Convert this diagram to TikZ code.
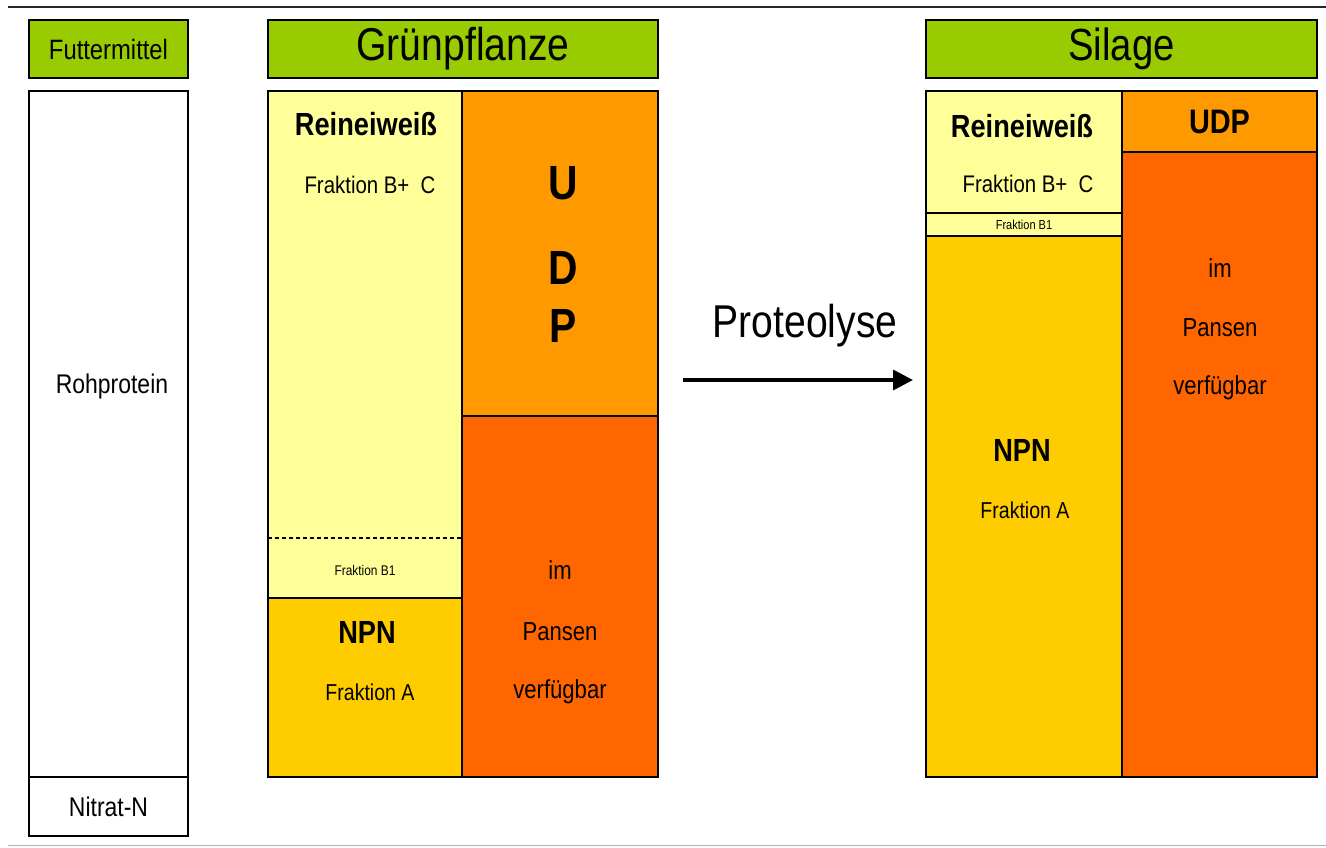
\documentclass[tikz,border=0pt]{standalone}
\usepackage{fontspec}
\setmainfont{Liberation Sans}[FakeStretch=0.85]
\usetikzlibrary{arrows.meta}
\definecolor{leafgreen}{HTML}{99CC00}
\definecolor{paleyellow}{HTML}{FFFF99}
\definecolor{npnyellow}{HTML}{FFCC00}
\definecolor{udporange}{HTML}{FF9900}
\definecolor{pansenred}{HTML}{FF6600}
\newcommand{\fsz}[1]{\fontsize{#1}{#1}\selectfont}
\tikzset{
  cell/.style={draw=black, line width=1.6pt, inner sep=0pt, outer sep=0pt, anchor=north west},
  lbl/.style={inner sep=0pt, anchor=center, text=black},
  flowarrow/.style={line width=3.5pt, -{Triangle[length=20pt,width=20pt]}}
}
\begin{document}
\begin{tikzpicture}[x=1pt,y=-1pt]
\useasboundingbox (0,0) rectangle (1326,847);
% frame rules
\draw[line width=2.5pt, black!85] (8,7) -- (1326,7);
\draw[line width=1pt, black!30] (8,845) -- (1326,845);

% left column: feed
\node[cell, fill=leafgreen, minimum width=159pt, minimum height=58pt] (fm) at (29,20) {};
\node[cell, fill=white, minimum width=159pt, minimum height=686pt] (roh) at (29,91) {};
\node[cell, fill=white, minimum width=159pt, minimum height=59pt] (nit) at (29,777) {};
\node[lbl] (fmT) at (fm.center) {\fsz{28}Futtermittel};
\node[lbl] (rohT) at (112,387) {\fsz{27}Rohprotein};
\node[lbl] (nitT) at (nit.center) {\fsz{27}Nitrat-N};

% green plant
\node[cell, fill=leafgreen, minimum width=390pt, minimum height=58pt] (gph) at (268,20) {};
\node[cell, fill=paleyellow, minimum width=194pt, minimum height=507pt] (gre) at (268,91) {};
\node[cell, fill=npnyellow, minimum width=194pt, minimum height=179pt] (gnpn) at (268,598) {};
\node[cell, fill=udporange, minimum width=196pt, minimum height=325pt] (gudp) at (462,91) {};
\node[cell, fill=pansenred, minimum width=196pt, minimum height=361pt] (gpan) at (462,416) {};
\draw[line width=1.2pt, dash pattern=on 4pt off 3pt] (gre.west |- 0,538) -- (gre.east |- 0,538);
\node[lbl] (gphT) at (gph.center) {\fsz{46}Grünpflanze};
\node[lbl] (greT) at (366,124) {\fsz{32}\bfseries Reineiweiß};
\node[lbl] (greF) at (370,185) {\fsz{24}Fraktion B+\ \ C};
\node[lbl] (gb1) at (365,570) {\fsz{14}Fraktion B1};
\node[lbl] (gnpnT) at (367,632) {\fsz{32}\bfseries NPN};
\node[lbl] (gnpnF) at (370,692) {\fsz{23}Fraktion A};
\node[lbl] (gU) at (563,183) {\fsz{48}\bfseries U};
\node[lbl] (gD) at (563,268) {\fsz{48}\bfseries D};
\node[lbl] (gP) at (563,326) {\fsz{48}\bfseries P};
\node[lbl] (gim) at (560,570) {\fsz{26}im};
\node[lbl] (gpa) at (560,632) {\fsz{26}Pansen};
\node[lbl] (gve) at (560,692) {\fsz{26}verfügbar};

% proteolysis arrow
\coordinate (arrS) at (683,380);
\coordinate (arrE) at (913,380);
\draw[flowarrow] (arrS) -- (arrE);
\node[lbl] (prot) at (805,326) {\fsz{46}Proteolyse};

% silage
\node[cell, fill=leafgreen, minimum width=391pt, minimum height=58pt] (sh) at (926,20) {};
\node[cell, fill=paleyellow, minimum width=196pt, minimum height=122pt] (sre) at (926,91) {};
\node[cell, fill=paleyellow, minimum width=196pt, minimum height=23pt] (sb1) at (926,213) {};
\node[cell, fill=npnyellow, minimum width=196pt, minimum height=541pt] (snpn) at (926,236) {};
\node[cell, fill=udporange, minimum width=195pt, minimum height=61pt] (sudp) at (1122,91) {};
\node[cell, fill=pansenred, minimum width=195pt, minimum height=625pt] (span) at (1122,152) {};
\node[lbl] (shT) at (sh.center) {\fsz{45}Silage};
\node[lbl] (sreT) at (1022,126) {\fsz{32}\bfseries Reineiweiß};
\node[lbl] (sreF) at (1028,184) {\fsz{24}Fraktion B+\ \ C};
\node[lbl] (sb1T) at (sb1.center) {\fsz{13}Fraktion B1};
\node[lbl] (sudpT) at (sudp.center) {\fsz{34}\bfseries UDP};
\node[lbl] (snpnT) at (1022,450) {\fsz{32}\bfseries NPN};
\node[lbl] (snpnF) at (1025,510) {\fsz{23}Fraktion A};
\node[lbl] (sim) at (1220,268) {\fsz{26}im};
\node[lbl] (spa) at (1220,328) {\fsz{26}Pansen};
\node[lbl] (sve) at (1220,388) {\fsz{26}verfügbar};
\end{tikzpicture}
\end{document}
